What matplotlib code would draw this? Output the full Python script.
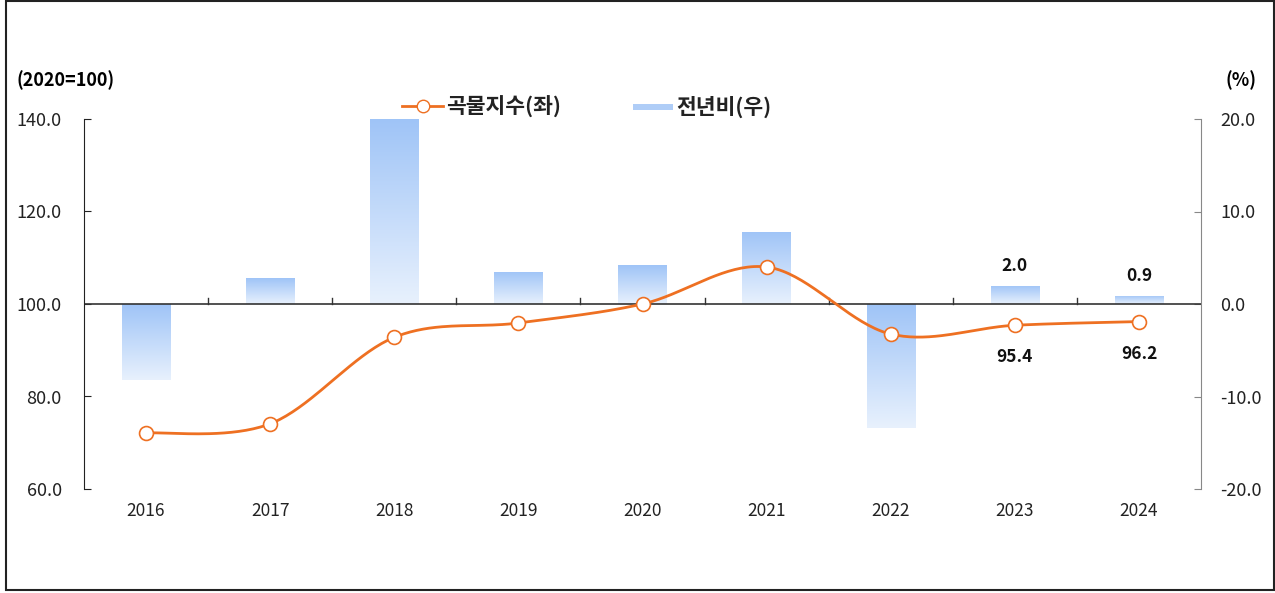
import numpy as np
import matplotlib
matplotlib.use("Agg")
import matplotlib.pyplot as plt
from matplotlib.patches import Rectangle
from matplotlib.colors import LinearSegmentedColormap
from matplotlib.lines import Line2D
from matplotlib.legend_handler import HandlerBase

plt.rcParams['font.family'] = ['Noto Sans CJK KR', 'DejaVu Sans']

years = ['2016', '2017', '2018', '2019', '2020', '2021', '2022', '2023', '2024']
grain_index = [72.1, 74.1, 92.8, 95.9, 100.0, 108.0, 93.5, 95.4, 96.2]
yoy_change = [-8.2, 2.8, 25.3, 3.5, 4.2, 7.8, -13.4, 2.0, 0.9]
line_labels = {7: '95.4', 8: '96.2'}
bar_labels = {7: '2.0', 8: '0.9'}
series_names = ['곡물지수(좌)', '전년비(우)']

ORANGE = '#EE7022'
cmap = LinearSegmentedColormap.from_list('bar', ['#E8F1FD', '#9FC4F7'])

fig = plt.figure(figsize=(12.75, 5.93), dpi=100)
ax = fig.add_axes([84/1275, 1-489/593, (1201-84)/1275, (489-119)/593])
ax2 = ax.twinx()

x = np.arange(len(years))

# bars on right axis with vertical gradient
bw = 0.39
for xi, v in zip(x, yoy_change):
    lo, hi = min(0, v), max(0, v)
    rect = Rectangle((xi-bw/2, lo), bw, hi-lo, facecolor='none', edgecolor='none')
    ax2.add_patch(rect)
    top_v = min(hi, 20)
    bot_v = max(lo, -20)
    grad = np.linspace(0, 1, 256).reshape(-1, 1)
    im = ax2.imshow(grad, extent=(xi-bw/2, xi+bw/2, bot_v, top_v), origin='lower',
                    cmap=cmap, aspect='auto', zorder=1)
    im.set_clip_path(rect)
ax2.set_ylim(-20, 20)
ax2.set_xlim(-0.5, len(years)-0.5)

# smoothed line (Bezier through points, like Excel smoothing)
def smooth(xs, ys, n=40):
    xs = np.asarray(xs, float); ys = np.asarray(ys, float)
    P = np.column_stack([xs, ys])
    P = np.vstack([P[0], P, P[-1]])
    out = []
    for i in range(1, len(P)-2):
        p0, p1, p2, p3 = P[i-1], P[i], P[i+1], P[i+2]
        c1 = p1 + (p2 - p0) / 6
        c2 = p2 - (p3 - p1) / 6
        t = np.linspace(0, 1, n)[:, None]
        seg = (1-t)**3*p1 + 3*(1-t)**2*t*c1 + 3*(1-t)*t**2*c2 + t**3*p2
        out.append(seg if i == 1 else seg[1:])
    return np.vstack(out)

ax.set_zorder(ax2.get_zorder()+1)
ax.patch.set_visible(False)
sm = smooth(x, grain_index)
ax.plot(sm[:, 0], sm[:, 1], color=ORANGE, lw=2.0, zorder=3, solid_capstyle='round')
ax.plot(x, grain_index, ls='none', marker='o', ms=10, mfc='white', mec=ORANGE, mew=1.2, zorder=4)
ax.set_ylim(60, 140)
ax.set_xlim(-0.5, len(years)-0.5)

# axis line at 100 with boundary ticks
ax.axhline(100, color='#333333', lw=1.2, zorder=2)
for b in np.arange(0.5, len(years)-1, 1.0):
    ax.plot([b, b], [100, 101.3], color='#333333', lw=1.0, zorder=2)

# spines / ticks
for s in ['top', 'bottom']:
    ax.spines[s].set_visible(False)
    ax2.spines[s].set_visible(False)
ax.spines['right'].set_visible(False)
ax2.spines['left'].set_visible(False)
ax.spines['left'].set_color('#222222')
ax2.spines['right'].set_color('#888888')
ax.set_yticks(np.arange(60, 141, 20))
ax.set_yticklabels([f'{v:.1f}' for v in np.arange(60, 141, 20)], fontsize=13, color='#222222')
ax.tick_params(axis='y', direction='in', length=5, pad=16, color='#222222')
ax2.set_yticks(np.arange(-20, 21, 10))
ax2.set_yticklabels([f'{v:.1f}' for v in np.arange(-20, 21, 10)], fontsize=13, color='#222222')
ax2.tick_params(axis='y', direction='in', length=5, pad=14, color='#888888')
ax.set_xticks([])
ax2.set_xticks([])

for xi, yl in zip(x, years):
    ax.text(xi, -0.06, yl, transform=ax.get_xaxis_transform(), ha='center', va='center',
            fontsize=12.5, color='#222222')

# data labels
for i, t in line_labels.items():
    ax.annotate(t, (x[i], grain_index[i]), xytext=(0, -23), textcoords='offset points',
                ha='center', va='center', fontsize=12.5, fontweight='bold', color='#111111')
for i, t in bar_labels.items():
    ax2.annotate(t, (x[i], yoy_change[i]), xytext=(0, 14), textcoords='offset points',
                 ha='center', va='center', fontsize=12.5, fontweight='bold', color='#111111')

# axis unit labels
fig.text(66/1275, 1-80/593, '(2020=100)', ha='center', va='center', fontsize=13, fontweight='bold')
fig.text(1241/1275, 1-80/593, '(%)', ha='center', va='center', fontsize=13, fontweight='bold')

# legend
class GradHandler(HandlerBase):
    def create_artists(self, legend, orig, xd, yd, w, h, fs, trans):
        r = Rectangle((xd, yd + h*0.28), w, h*0.36, facecolor='#AFCDF7', edgecolor='none', transform=trans)
        return [r]

line_h = Line2D([], [], color=ORANGE, lw=2.0, marker='o', ms=9, mfc='white', mec=ORANGE)
bar_h = Rectangle((0, 0), 1, 1)
leg = fig.legend([line_h, bar_h], series_names, loc='center left',
                 bbox_to_anchor=(383/1275, 1-107/593),
                 ncol=2, frameon=False, handlelength=1.9, columnspacing=3.3,
                 handletextpad=0.15, handler_map={Rectangle: GradHandler()},
                 prop={'size': 15.5, 'weight': 'bold'})
for t in leg.get_texts():
    t.set_color('#222222')

# figure border
fig.add_artist(Rectangle((6/1275, 3/593), 1268/1275, 589/593, transform=fig.transFigure,
                         fill=False, edgecolor='#222222', lw=1.5))

fig.savefig('out.png', dpi=100)
